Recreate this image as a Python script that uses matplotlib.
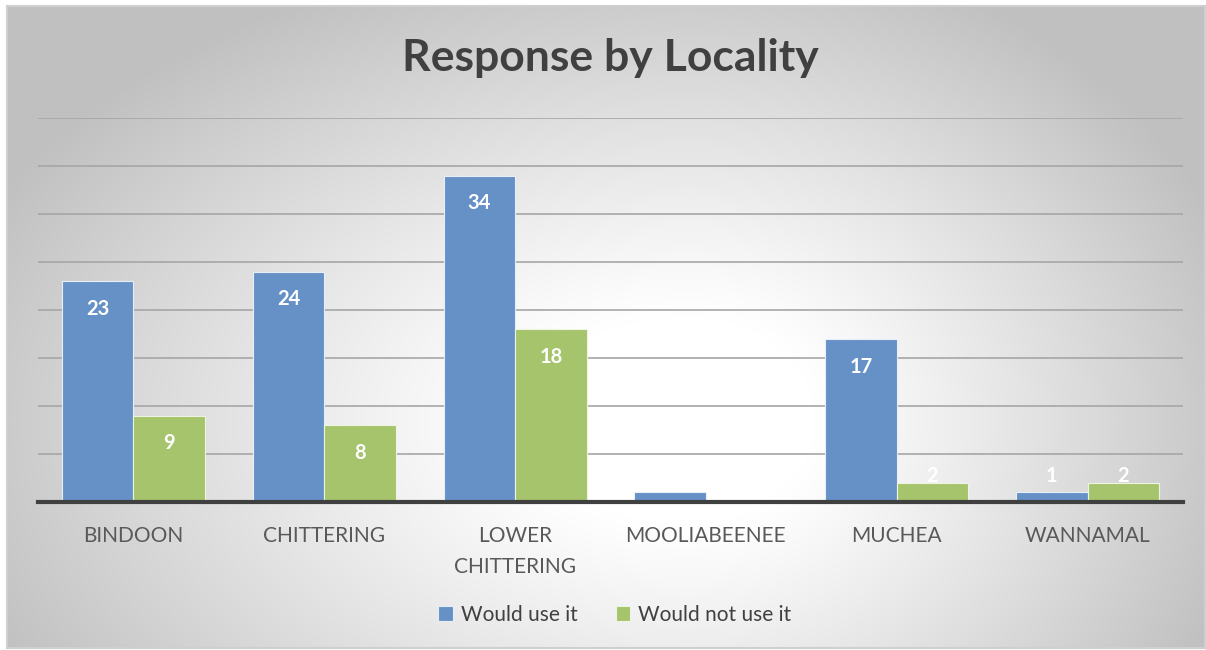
import matplotlib.pyplot as plt
import numpy as np

categories = ["BINDOON", "CHITTERING", "LOWER\nCHITTERING", "MOOLIABEENEE", "MUCHEA", "WANNAMAL"]
would_use = [23, 24, 34, 1, 17, 1]
would_not_use = [9, 8, 18, 0, 2, 2]
series_names = ["Would use it", "Would not use it"]

blue = "#6591c6"
green = "#a5c46c"
W, H = 1206, 650

plt.rcParams['font.family'] = ['Lato', 'DejaVu Sans']
fig = plt.figure(figsize=(W / 100, H / 100), dpi=100)
fig.patch.set_facecolor("white")

# background panel with radial gradient (white centre, grey edges)
bg = fig.add_axes([7 / W, 1 - 648 / H, (1205 - 7) / W, (648 - 6) / H])
xx, yy = np.meshgrid(np.arange(7, 1205), np.arange(6, 648))
cx, cy = 690, 420
rx = np.where(xx < cx, 760, 560)
d = np.sqrt(((xx - cx) / rx) ** 2 + ((yy - cy) / 470) ** 2)
shade = 255 - 66 * np.clip((d - 0.22) / 0.85, 0, 1.0) ** 1.1
shade = np.clip(shade, 192, 255) / 255
bg.imshow(np.dstack([shade, shade, shade]), aspect="auto", extent=[0, 1, 0, 1])
bg.set_xticks([])
bg.set_yticks([])
for s in bg.spines.values():
    s.set_color("#cfcfcf")
    s.set_linewidth(1.5)

# main plot
ax = fig.add_axes([38 / W, 1 - 502 / H, (1183 - 38) / W, (502 - 118) / H])
ax.patch.set_alpha(0)
x = np.arange(len(categories))
bw = 0.375
ax.bar(x - bw / 2, would_use, bw, color=blue, edgecolor="#e8eef7", linewidth=0.8, zorder=3, label=series_names[0])
ax.bar(x + bw / 2, would_not_use, bw, color=green, edgecolor="#eef4e4", linewidth=0.8, zorder=3, label=series_names[1])

ax.set_xlim(-0.5, len(categories) - 0.5)
ax.set_ylim(0, 40)
ax.set_yticks(np.arange(5, 41, 5))
ax.yaxis.grid(True, color="#a6a6a6", linewidth=1.2, zorder=1)
ax.tick_params(axis="y", left=False, labelleft=False)
ax.tick_params(axis="x", bottom=False, labelsize=15, labelcolor="#595959", pad=14)
ax.set_xticks(x)
ax.set_xticklabels(categories, linespacing=1.65)
for s in ["top", "right", "left"]:
    ax.spines[s].set_visible(False)
ax.spines["bottom"].set_color("#404040")
ax.spines["bottom"].set_linewidth(3)
ax.spines["bottom"].set_zorder(4)

# data labels
for xs, vals in [(x - bw / 2, would_use), (x + bw / 2, would_not_use)]:
    for xi, v in zip(xs, vals):
        if v == 0:
            continue
        ax.text(xi, max(v - 2.9, 2.7), str(v), ha="center", va="center",
                color="white", fontsize=14.5, fontweight="bold", zorder=5)

fig.text(610 / W, 1 - 58 / H, "Response by Locality", ha="center", va="center",
         fontsize=32, fontweight="bold", color="#404040")

fig.legend(loc="center", bbox_to_anchor=(615 / W, 1 - 615 / H), ncol=2, frameon=False,
           fontsize=15, labelcolor="#404040", handlelength=0.7, handleheight=0.7,
           handletextpad=0.4, columnspacing=1.8)

fig.savefig("out.png", dpi=100)
